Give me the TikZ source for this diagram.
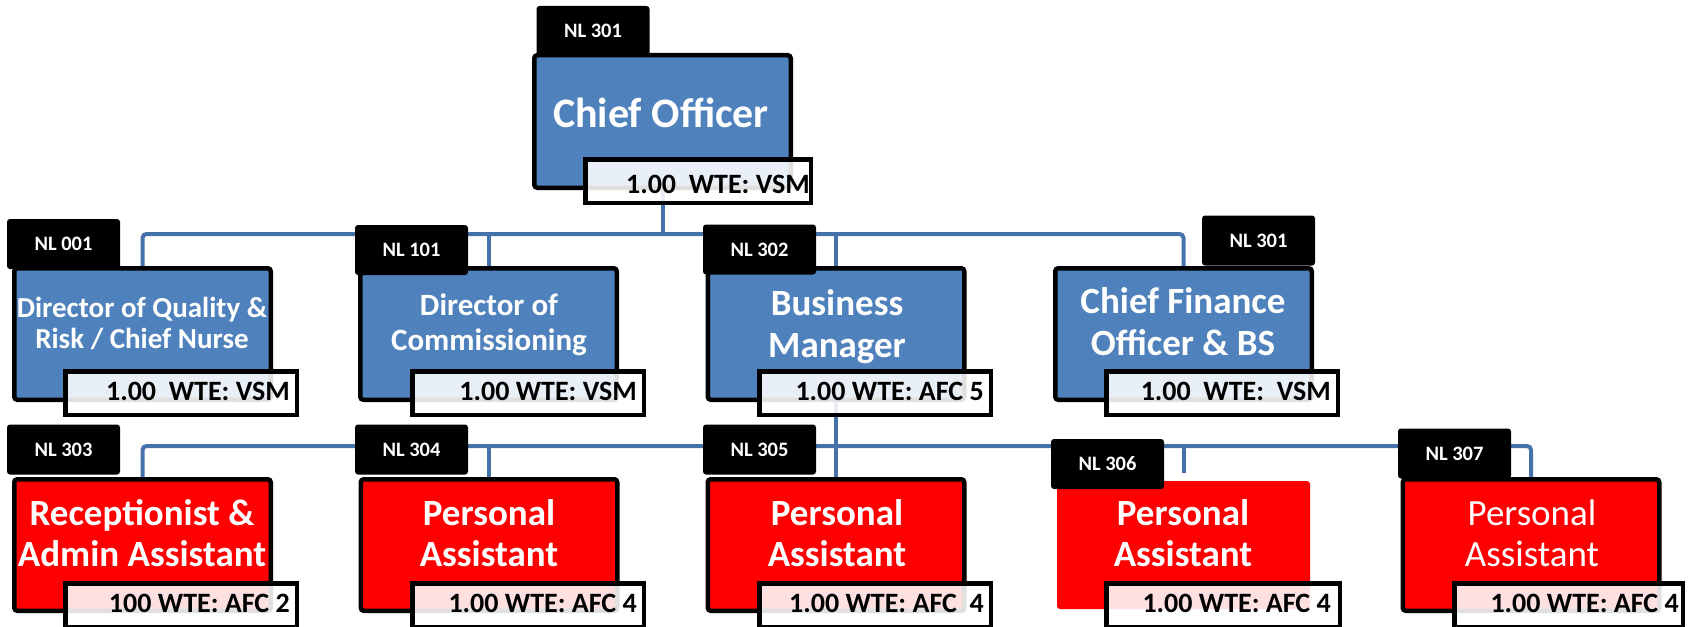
\documentclass[tikz,border=0pt]{standalone}
\usepackage{fontspec}
\setmainfont{Carlito}
\usetikzlibrary{calc}
\pgfdeclarelayer{bg}
\pgfsetlayers{bg,main}
\definecolor{boxblue}{HTML}{4F81BD}
\definecolor{boxred}{HTML}{FF0000}
\definecolor{connblue}{HTML}{4672AA}
\tikzset{
  conn/.style={draw=connblue, line width=4pt},
  unitbox/.style={line width=4.5pt, rounded corners=3pt, minimum width=256.5pt, minimum height=131.5pt, inner sep=0pt},
  bluebox/.style={unitbox, draw=black, fill=boxblue},
  redbox/.style={unitbox, draw=black, fill=boxred},
  tagbox/.style={fill=black, rounded corners=3pt, minimum width=113pt, minimum height=50pt, inner sep=0pt, text=white, font=\fontsize{20.5}{22}\selectfont\bfseries},
  wtebox/.style={draw=black, line width=4.5pt, fill=white, fill opacity=0.88, minimum width=231.5pt, minimum height=43.5pt, inner sep=0pt},
  wtetext/.style={anchor=base east, inner sep=0pt, font=\fontsize{28}{30}\selectfont\bfseries},
  title/.style={text=white, align=center, inner sep=0pt, anchor=base},
  big/.style={font=\fontsize{37}{41}\selectfont\bfseries},
}
\begin{document}
\begin{tikzpicture}[x=1pt,y=-1pt]
\useasboundingbox (0,0) rectangle (1696,626);
\coordinate (bus2) at (0,234);
\coordinate (bus3) at (0,446);
% boxes
\node[bluebox, minimum height=132.5pt] (chief) at (662.5,121.5) {};
\node[bluebox] (dqr) at (142.5,334) {};
\node[bluebox] (dcom) at (488.5,334) {};
\node[bluebox] (bm) at (836,334) {};
\node[bluebox] (cfo) at (1183.5,334) {};
\node[redbox] (rec) at (142.5,545) {};
\node[redbox] (pa304) at (489,545) {};
\node[redbox] (pa305) at (836,545) {};
\node[unitbox, fill=boxred, minimum width=253pt, minimum height=128pt] (pa306) at (1183.5,545) {};
\node[redbox] (pa307) at (1531,545) {};
% connectors behind boxes
\begin{pgfonlayer}{bg}
\draw[conn, rounded corners=4pt] (dqr.north) -- (dqr.north |- bus2) -- (cfo.north |- bus2) -- (cfo.north);
\draw[conn] (chief.south) -- (chief.south |- bus2);
\draw[conn] (dcom.north) -- (dcom.north |- bus2);
\draw[conn] (bm.north) -- (bm.north |- bus2);
\draw[conn] (bm.south) -- (pa305.north);
\draw[conn, rounded corners=4pt] (rec.north) -- (rec.north |- bus3) -- (pa307.north |- bus3) -- (pa307.north);
\draw[conn] (pa304.north) -- (pa304.north |- bus3);
\draw[conn] (pa306.north |- bus3) -- ([yshift=6pt]pa306.north);
\end{pgfonlayer}
% titles (anchor = baseline of last line)
\node[title, font=\fontsize{42}{46}\selectfont\bfseries] (chieft) at (661,127) {Chief Officer};
\node[title, font=\fontsize{29}{31}\selectfont\bfseries] (dqrt) at (142,348) {Director of Quality \&\\Risk / Chief Nurse};
\node[title, font=\fontsize{31}{35}\selectfont\bfseries] (dcomt) at (489,350) {Director of\\Commissioning};
\node[title, font=\fontsize{37}{42}\selectfont\bfseries] (bmt) at (837,357) {Business\\Manager};
\node[title, font=\fontsize{37}{42}\selectfont\bfseries] (cfot) at (1183,355) {Chief Finance\\Officer \& BS};
\node[title, big] (rect) at (142,566) {Receptionist \&\\Admin Assistant};
\node[title, big] (pa304t) at (489,566) {Personal\\Assistant};
\node[title, big] (pa305t) at (837,566) {Personal\\Assistant};
\node[title, big] (pa306t) at (1183,566) {Personal\\Assistant};
\node[title, font=\fontsize{37}{41}\selectfont] (pa307t) at (1532,566) {Personal\\Assistant};
% tags
\node[tagbox] (chieftag) at (593,31) {NL 301};
\node[tagbox] (dqrtag) at (63.5,244) {NL 001};
\node[tagbox] (dcomtag) at (411.5,250) {NL 101};
\node[tagbox] (bmtag) at (759.5,249.5) {NL 302};
\node[tagbox] (cfotag) at (1258.5,240.5) {NL 301};
\node[tagbox] (rectag) at (63.5,449.5) {NL 303};
\node[tagbox] (pa304tag) at (411.5,449.5) {NL 304};
\node[tagbox] (pa305tag) at (759.5,449.5) {NL 305};
\node[tagbox] (pa306tag) at (1107.5,464) {NL 306};
\node[tagbox] (pa307tag) at (1454.5,453.5) {NL 307};
% WTE boxes
\node[wtebox, minimum width=225.5pt] (chiefw) at (698,181) {};
\node[wtebox] (dqrw) at (181,393) {};
\node[wtebox] (dcomw) at (528,393) {};
\node[wtebox] (bmw) at (875,393) {};
\node[wtebox] (cfow) at (1222,393) {};
\node[wtebox] (recw) at (181,605) {};
\node[wtebox] (pa304w) at (528,605) {};
\node[wtebox] (pa305w) at (875,605) {};
\node[wtebox, minimum width=233.5pt] (pa306w) at (1223,605) {};
\node[wtebox, minimum width=228.5pt] (pa307w) at (1568.5,605) {};
% WTE texts
\node[wtetext] (chiefwt) at (810,193) {1.00~~WTE: VSM};
\node[wtetext] (dqrwt) at (290,400) {1.00~~WTE: VSM};
\node[wtetext] (dcomwt) at (637,400) {1.00 WTE: VSM};
\node[wtetext] (bmwt) at (984,400) {1.00 WTE: AFC 5};
\node[wtetext] (cfowt) at (1331,400) {1.00~~WTE:~~VSM};
\node[wtetext] (recwt) at (290,612) {100 WTE: AFC 2};
\node[wtetext] (pa304wt) at (637,612) {1.00 WTE: AFC 4};
\node[wtetext] (pa305wt) at (984,612) {1.00 WTE: AFC~~4};
\node[wtetext] (pa306wt) at (1331,612) {1.00 WTE: AFC 4};
\node[wtetext] (pa307wt) at (1679,612) {1.00 WTE: AFC 4};
\end{tikzpicture}
\end{document}
